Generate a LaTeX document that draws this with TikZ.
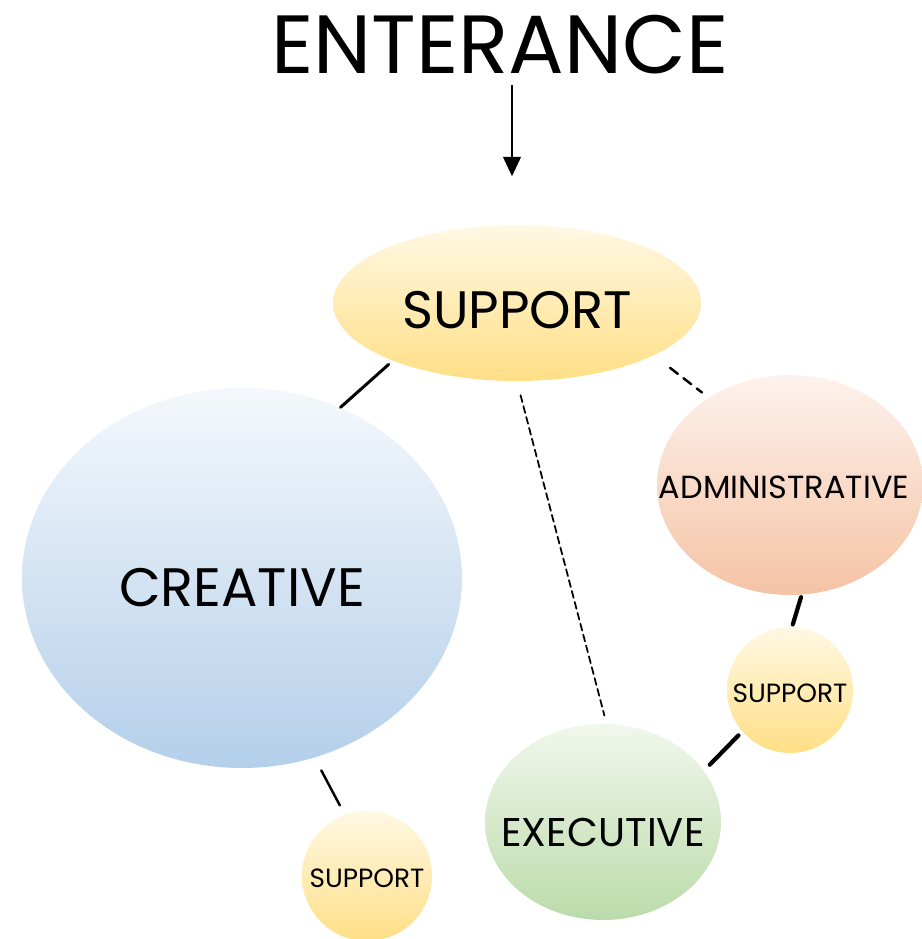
\documentclass[tikz,border=0pt]{standalone}
\usepackage{fontspec}
\setmainfont{Poppins}
\usetikzlibrary{arrows.meta,shapes.geometric}

\definecolor{suptop}{HTML}{FFF8E4}
\definecolor{supbot}{HTML}{FFDF86}
\definecolor{cretop}{HTML}{F4F8FC}
\definecolor{cremid}{HTML}{CFE0F2}
\definecolor{crebot}{HTML}{B4CFEA}
\definecolor{admtop}{HTML}{FDF2EC}
\definecolor{admbot}{HTML}{F5C3A5}
\definecolor{exetop}{HTML}{F1F7EC}
\definecolor{exebot}{HTML}{BBDBAA}

\begin{document}
\begin{tikzpicture}[
  blob/.style={shape=ellipse,inner sep=-1cm,text depth=0pt},
  yellowball/.style={blob,top color=suptop,bottom color=supbot},
  link/.style={line cap=round,shorten <=#1},
  link/.default=0pt]
\useasboundingbox (0,0) rectangle (9.22,9.39);

\path (5.00,8.94) node[inner sep=0pt,font=\fontsize{23.5}{24}\selectfont] (T) {ENTERANCE};
\path (5.17,6.36) node[yellowball,minimum width=3.68cm,minimum height=1.56cm,text height=14.5pt,
  font=\fontsize{15}{15}\selectfont] (S) {SUPPORT};
\path (2.42,3.61) node[blob,minimum width=4.40cm,minimum height=3.80cm,text height=16.4pt,
  top color=cretop,middle color=cremid,bottom color=crebot,font=\fontsize{15.4}{16}\selectfont] (C) {CREATIVE};
\path (7.90,4.54) node[blob,minimum width=2.66cm,minimum height=2.20cm,text height=7.6pt,
  top color=admtop,bottom color=admbot,font=\fontsize{9.1}{9.1}\selectfont] (A) {\hspace*{-0.12cm}ADMINISTRATIVE};
\path (7.90,2.49) node[yellowball,minimum width=1.26cm,minimum height=1.26cm,text height=7pt,
  font=\fontsize{7.5}{8}\selectfont] (R) {SUPPORT};
\path (6.03,1.17) node[blob,minimum width=2.36cm,minimum height=1.96cm,text height=13.7pt,
  top color=exetop,bottom color=exebot,font=\fontsize{11.4}{11.4}\selectfont] (E) {EXECUTIVE};
\path (3.67,0.63) node[yellowball,minimum width=1.30cm,minimum height=1.30cm,text height=6.4pt,
  font=\fontsize{7.5}{8}\selectfont] (L) {SUPPORT};

% entrance arrow
\path[line width=0.6pt,-{Triangle[width=5pt,length=5.5pt]},shorten <=0.1cm,shorten >=0.48cm]
  ([xshift=-0.05cm]T.south -| S.north) edge ([xshift=-0.05cm]S.north);

% links
\path[link=0.05cm,line width=0.85pt] (S.205) edge (C.60);
\path[link=0.2cm,line width=0.7pt,dash pattern=on 2.8pt off 2pt,shorten >=0.08cm] (S.-21) edge (A.133);
\path[link=0.14cm,line width=0.5pt,dash pattern=on 2pt off 1.2pt,shorten >=0.08cm] (S.-90) edge (E.88);
\path[link=0.02cm,line width=1.2pt,shorten >=0.02cm] (A.-84) edge (R.88);
\path[link=0.05cm,line width=1.2pt,shorten >=0.08cm] (R.221) edge (E.27);
\path[link=0.14cm,line width=0.7pt,shorten >=0.1cm] (C.-68) edge (L.110);

\end{tikzpicture}
\end{document}
